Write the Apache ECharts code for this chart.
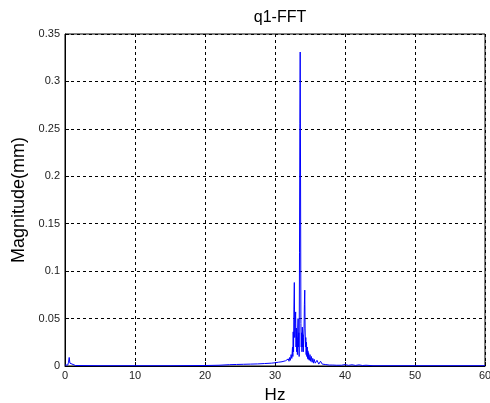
<!DOCTYPE html>
<html>
<head>
<meta charset="utf-8">
<script src="https://cdn.jsdelivr.net/npm/echarts@6/dist/echarts.min.js"></script>
<style>
  html, body { margin: 0; padding: 0; background: #fff; }
  #chart { width: 490px; height: 403px; }
</style>
</head>
<body>
<div id="chart"></div>
<script>
// spectrum (Hz, magnitude in mm)
var hz = [
  0, 0.4, 0.5, 0.6, 0.7, 0.8, 1.5, 5, 10, 15, 20, 22,
  23, 23.25, 23.5, 23.75, 24, 24.25, 24.5, 24.75, 25, 25.25, 25.5, 25.75,
  26, 26.25, 26.5, 26.75, 27, 27.25, 27.5, 27.75, 28, 28.25, 28.5, 28.75,
  29, 29.25, 29.5, 29.75, 30, 30.25, 30.5, 30.75, 31, 31.25, 31.5, 31.75,
  31.9, 32.0, 32.1, 32.2, 32.3, 32.4, 32.5, 32.55, 32.6, 32.65, 32.7, 32.76,
  32.82, 32.88, 32.95, 33.0, 33.05, 33.1, 33.15, 33.2, 33.25, 33.3, 33.35, 33.4,
  33.45, 33.5, 33.55, 33.6, 33.65, 33.7, 33.75, 33.8, 33.85, 33.9, 33.95, 34.0,
  34.05, 34.1, 34.15, 34.2, 34.25, 34.3, 34.35, 34.4, 34.45, 34.5, 34.55, 34.6,
  34.65, 34.7, 34.75, 34.8, 34.9, 35.0, 35.1, 35.2, 35.3, 35.4, 35.5, 35.6,
  35.75, 36, 36.25, 36.5, 36.75, 37, 37.25, 37.5, 37.75, 38, 38.25, 38.5,
  38.75, 39, 39.5, 40, 40.5, 41, 41.5, 42, 42.5, 43, 44, 50, 60
];
var mag = [
  0.001, 0.001, 0.004, 0.009, 0.003, 0.001, 0.0005, 0.0003, 0.0003, 0.0003, 0.0005, 0.0008,
  0.0012, 0.0006, 0.0014, 0.0007, 0.0015, 0.0008, 0.0016, 0.0008, 0.0017, 0.0009, 0.0018, 0.0009,
  0.0019, 0.001, 0.002, 0.001, 0.0021, 0.0011, 0.0022, 0.0012, 0.0024, 0.0012, 0.0026, 0.0014,
  0.0028, 0.0015, 0.003, 0.0018, 0.0034, 0.002, 0.004, 0.0025, 0.0045, 0.003, 0.0055, 0.004,
  0.0075, 0.005, 0.009, 0.006, 0.012, 0.008, 0.02, 0.01, 0.036, 0.015, 0.06, 0.088,
  0.03, 0.045, 0.057, 0.02, 0.04, 0.015, 0.03, 0.012, 0.04, 0.05, 0.02, 0.035,
  0.01, 0.12, 0.256, 0.331, 0.2, 0.045, 0.02, 0.035, 0.015, 0.041, 0.02, 0.033,
  0.015, 0.03, 0.04, 0.065, 0.08, 0.04, 0.02, 0.03, 0.012, 0.025, 0.01, 0.02,
  0.008, 0.016, 0.007, 0.014, 0.006, 0.012, 0.005, 0.01, 0.004, 0.008, 0.003, 0.007,
  0.003, 0.006, 0.002, 0.005, 0.002, 0.004, 0.0015, 0.003, 0.001, 0.0025, 0.001, 0.002,
  0.0008, 0.0018, 0.0008, 0.0015, 0.0007, 0.0013, 0.0006, 0.0012, 0.0005, 0.0008, 0.0003, 0.0003, 0.0003
];
var xTicks = [0, 10, 20, 30, 40, 50, 60];
var yTicks = [0, 0.05, 0.1, 0.15, 0.2, 0.25, 0.3, 0.35];

var points = hz.map(function (h, i) { return [h, mag[i]]; });

var chart = echarts.init(document.getElementById('chart'));
var gridLine = { show: true, lineStyle: { color: '#000', type: [3, 3], width: 1 } };
var option = {
  backgroundColor: '#fff',
  animation: false,
  title: {
    text: 'q1-FFT',
    left: 275, top: 5, textAlign: 'center',
    textStyle: { fontFamily: 'Liberation Sans', fontSize: 16, fontWeight: 'normal', color: '#000' }
  },
  grid: {
    left: 65, right: 5, top: 34, bottom: 37,
    outerBoundsMode: 'none', containLabel: false,
    show: true, borderColor: '#000', borderWidth: 1, backgroundColor: '#fff'
  },
  xAxis: {
    type: 'value', min: 0, max: 60, interval: 10,
    name: 'Hz', nameLocation: 'middle', nameGap: 21,
    nameTextStyle: { fontFamily: 'Liberation Sans', fontSize: 17, color: '#000' },
    axisLine: { show: true, onZero: false, lineStyle: { color: '#000' } },
    axisTick: { show: true, inside: true, length: 4, lineStyle: { color: '#000' } },
    axisLabel: { fontFamily: 'Liberation Sans', fontSize: 11, color: '#222', margin: 4,
      formatter: function (v) { return xTicks.indexOf(v) >= 0 ? String(v) : ''; } },
    splitLine: gridLine
  },
  yAxis: {
    type: 'value', min: 0, max: 0.35, interval: 0.05,
    name: 'Magnitude(mm)', nameLocation: 'middle', nameGap: 33, nameRotate: 90,
    nameTextStyle: { fontFamily: 'Liberation Sans', fontSize: 18, color: '#000' },
    axisLine: { show: true, lineStyle: { color: '#000' } },
    axisTick: { show: true, inside: true, length: 4, lineStyle: { color: '#000' } },
    axisLabel: { fontFamily: 'Liberation Sans', fontSize: 11, color: '#222', margin: 5,
      formatter: function (v) {
        var r = Math.round(v * 100) / 100;
        return yTicks.indexOf(r) >= 0 ? String(r) : '';
      } },
    splitLine: gridLine
  },
  series: [{
    type: 'line',
    data: points,
    showSymbol: false,
    lineStyle: { color: '#0000ff', width: 1 },
    itemStyle: { color: '#0000ff' },
    silent: true
  }]
};
chart.setOption(option);
window.addEventListener('resize', function () { chart.resize(); });
</script>
</body>
</html>
